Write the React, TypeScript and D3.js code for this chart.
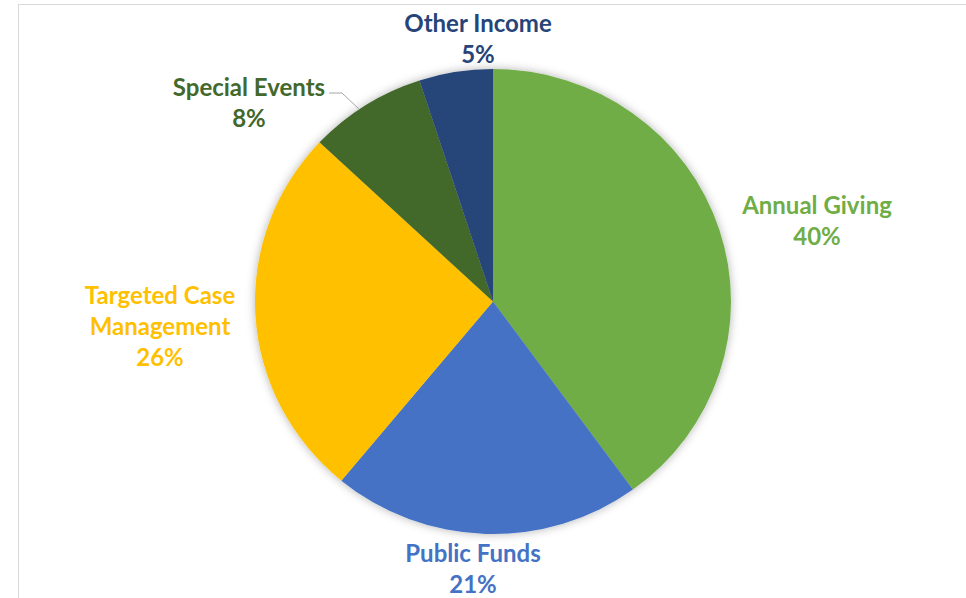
import React from "react";
import * as d3 from "d3";

const categories = ["Annual Giving", "Public Funds", "Targeted Case Management", "Special Events", "Other Income"];
const values = [40, 21, 26, 8, 5];
const colors = ["#70AD47", "#4472C4", "#FFC000", "#43682B", "#264478"];
const labelLines = [["Annual Giving"], ["Public Funds"], ["Targeted Case", "Management"], ["Special Events"], ["Other Income"]];
const labelPos: [number, number][] = [
  [817, 214],
  [473, 562],
  [160, 304],
  [249, 96],
  [478, 32],
];

export default function App() {
  const W = 966, H = 598;
  const cx = 493, cy = 301.5, rx = 238, ry = 232.5;
  const total = d3.sum(values);
  const pie = d3.pie<number>().sort(null).value((d) => d)(values);
  const arc = d3.arc<d3.PieArcDatum<number>>().innerRadius(0).outerRadius(rx);
  const lh = 31;
  return (
    <svg width={W} height={H} style={{ position: "absolute", left: 0, top: 0, background: "#fff" }}>
      <defs>
        <filter id="sh" x="-20%" y="-20%" width="140%" height="140%">
          <feDropShadow dx="0" dy="0" stdDeviation="5" floodColor="#000" floodOpacity="0.3" />
        </filter>
      </defs>
      <rect x={18.5} y={4.5} width={W + 20} height={H + 20} fill="#fff" stroke="#d9d9d9" strokeWidth={1} />
      <g transform={`translate(${cx},${cy}) scale(1,${ry / rx})`} filter="url(#sh)">
        {pie.map((p, i) => (
          <path key={i} d={arc(p) || ""} fill={colors[i]} />
        ))}
      </g>
      <polyline points="329,93 342,93 359,109" fill="none" stroke="#a6a6a6" strokeWidth={1} />
      {labelLines.map((lines, i) => {
        const [x, y] = labelPos[i];
        const pct = Math.round((values[i] / total) * 100) + "%";
        const all = [...lines, pct];
        return (
          <text key={i} x={x} y={y} textAnchor="middle" fill={colors[i]}
            style={{ fontFamily: "Lato, 'Open Sans', sans-serif", fontWeight: 700, fontSize: 24 }}>
            {all.map((t, j) => (
              <tspan key={j} x={x} y={y + j * lh}>{t}</tspan>
            ))}
          </text>
        );
      })}
    </svg>
  );
}
